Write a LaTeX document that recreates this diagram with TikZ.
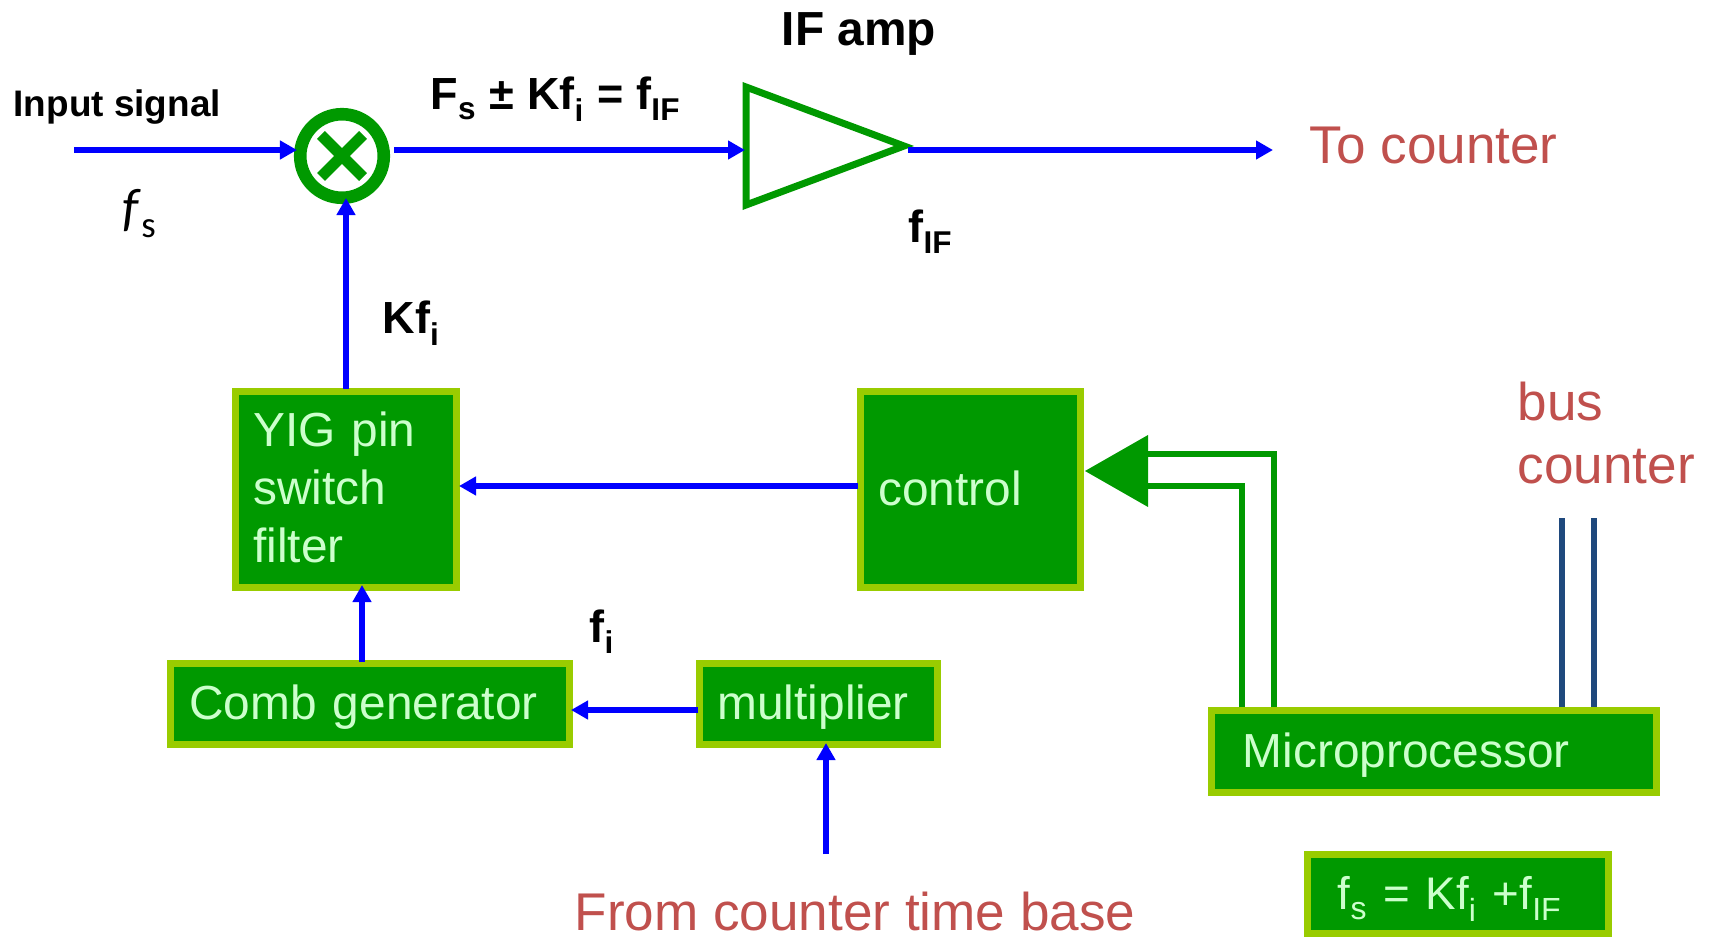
\documentclass[tikz,border=0pt]{standalone}
\usepackage{fontspec}
\setmainfont{Liberation Sans}
\newfontfamily\fsfont{Carlito}
\usetikzlibrary{arrows.meta}
\definecolor{boxfill}{HTML}{009900}
\definecolor{boxedge}{HTML}{99CC00}
\definecolor{boxtext}{HTML}{CCFFCC}
\definecolor{sigblue}{HTML}{0000FF}
\definecolor{busblue}{HTML}{1F497D}
\definecolor{notered}{HTML}{C0504D}
\newcommand{\lowsub}[1]{\raisebox{-.08em}{\textsubscript{#1}}}
\tikzset{
  block/.style={draw=boxedge,fill=boxfill,line width=.7mm,text=boxtext,align=left,inner xsep=.18cm,inner ysep=0pt,outer sep=.3mm,font=\fontsize{13.6}{16.4}\selectfont},
  lowtext/.style={text height=.41cm,text depth=.1cm},
  sig/.style={sigblue,line width=.6mm,-{Triangle[length=1.7mm,width=1.8mm]}},
  ctrlline/.style={boxfill,line width=.6mm},
  busline/.style={busblue,line width=.6mm},
  note/.style={notered,anchor=base west,inner sep=0pt,font=\fontsize{15.1}{18}\selectfont},
  lab/.style={black,anchor=base west,inner sep=0pt,font=\bfseries\fontsize{12.8}{15}\selectfont}
}
\begin{document}
\begin{tikzpicture}[x=.01cm,y=-.01cm]
\useasboundingbox (0,0) rectangle (1709,937);

\node[draw=boxfill,line width=1.26mm,circle,minimum size=.835cm,inner sep=0pt] (mix) at (342,156) {};
\draw[boxfill,line width=1.1mm] ([shift={(-21,-21)}]mix.center) -- ([shift={(21,21)}]mix.center);
\draw[boxfill,line width=1.1mm] ([shift={(21,-21)}]mix.center) -- ([shift={(-21,21)}]mix.center);
\draw[boxfill,line width=.7mm,fill=white] (746,87) -- (904,146) -- (746,205) -- cycle;

\node[block,text width=1.85cm,minimum width=2.21cm,minimum height=1.95cm] (yig) at (346,489.5) {YIG pin\\switch\\filter\par\vspace{.04cm}};
\node[block,text width=1.84cm,minimum width=2.2cm,minimum height=1.95cm,text height=.31cm,text depth=0pt] (control) at (970.5,489.5) {control};
\node[block,lowtext,text width=3.61cm,inner xsep=.19cm,minimum width=3.99cm,minimum height=.81cm] (comb) at (370,704) {Comb generator};
\node[block,lowtext,text width=2.02cm,minimum width=2.38cm,minimum height=.81cm] (multi) at (818.5,704) {multiplier};
\node[block,lowtext,text width=3.82cm,inner xsep=.31cm,minimum width=4.44cm,minimum height=.81cm] (micro) at (1434,751.5) {Microprocessor};
\node[block,lowtext,text width=2.4cm,inner xsep=.3cm,minimum width=3cm,minimum height=.78cm,font=\fontsize{13}{16}\selectfont] (formula) at (1458,894) {f\lowsub{s} = Kf\lowsub{i} +f\lowsub{IF}};

\coordinate (insig) at (74,150);
\coordinate (mixin) at (297,150);
\coordinate (mixout) at (394,150);
\coordinate (mixbot) at (346,198);
\coordinate (ampin) at (745,150);
\coordinate (ampout) at (908,150);
\coordinate (outsig) at (1273,150);
\coordinate (combout) at (362,662);
\coordinate (yigin) at (362,585);
\coordinate (ctrlleft) at (459,486);
\coordinate (ctrlright) at (858,486);
\coordinate (combin) at (571,710);
\coordinate (multiout) at (698,710);
\coordinate (timebase) at (826,854);
\coordinate (multiin) at (826,743);
\coordinate (upperend) at (1148,454);
\coordinate (lowerend) at (1148,486);
\coordinate (upperstart) at (1274,707);
\coordinate (lowerstart) at (1242,707);
\coordinate (busatop) at (1562,518);
\coordinate (busabot) at (1562,707);
\coordinate (busbtop) at (1594,518);
\coordinate (busbbot) at (1594,707);

\path[sig] (insig) edge (mixin);
\path[sig] (mixout) edge (ampin);
\path[sig] (ampout) edge (outsig);
\path[sig] (yig.north) edge (mixbot);
\path[sig] (combout) edge (yigin);
\path[sig] (ctrlright) edge (ctrlleft);
\path[sig] (multiout) edge (combin);
\path[sig] (timebase) edge (multiin);

\fill[boxfill] (1085,471) -- (1148,435) -- (1148,507) -- cycle;
\draw[ctrlline] (upperstart) |- (upperend);
\draw[ctrlline] (lowerstart) |- (lowerend);
\draw[busline] (busatop) -- (busabot);
\draw[busline] (busbtop) -- (busbbot);

\node[lab,font=\bfseries\fontsize{10.5}{12}\selectfont] (input) at (13,117) {Input signal};
\node[anchor=base west,inner sep=0pt,font=\fsfont\fontsize{15}{17}\selectfont] (fs) at (122,226) {\textit{f}\lowsub{s}};
\node[lab,font=\bfseries\fontsize{13.6}{16}\selectfont] (ifamp) at (781,46) {IF amp};
\node[lab] (mixlab) at (430,110) {F\lowsub{s} ± Kf\lowsub{i} = f\lowsub{IF}};
\node[lab] (fif) at (908,243) {f\lowsub{IF}};
\node[lab] (kfi) at (382,334) {Kf\lowsub{i}};
\node[lab] (fi) at (589,642) {f\lowsub{i}};
\node[note] (tocount) at (1309,164) {To counter};
\node[note] (buslab) at (1517,421) {bus};
\node[note] (countlab) at (1517,484) {counter};
\node[note] (timelab) at (574,930) {From counter time base};
\end{tikzpicture}
\end{document}
